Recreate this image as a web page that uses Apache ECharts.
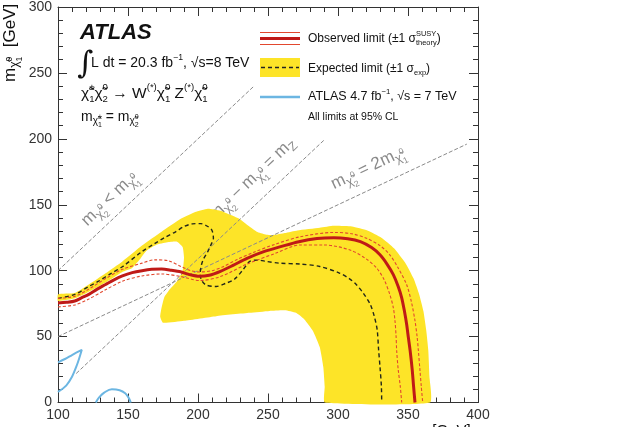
<!DOCTYPE html>
<html>
<head>
<meta charset="utf-8">
<script src="https://cdn.jsdelivr.net/npm/echarts@6/dist/echarts.min.js"></script>
<style>html,body{margin:0;padding:0;background:#fff}#chart{width:642px;height:427px}</style>
</head>
<body>
<div id="chart"></div>
<script>
// Axis ranges and ticks (GeV)
const xRange = [100, 400];
const yRange = [0, 300];
const tickStep = 50;

// Expected limit, +1 sigma edge of the band
const expUp = [[100,82],[112,83],[122,89.5],[134,98],[146,107],[160,119],[174,129.5],[188,139.5],[198,144.5],[207,147],[216,145.5],[224,142],[230,139],[236,134],[242,129.5],[248,127.5],[254,127],[262,128.5],[271,130.5],[287,132.5],[297,134],[310,133.5],[321,130.5],[331,125],[340,117],[348,106],[354,94],[358,82],[361,69.5],[363,55],[364.5,39.5],[365.3,20],[365.7,0]];
// Expected limit, -1 sigma edge of the band
const expDown = [[100,77],[112,79],[122,84],[134,91],[146,99],[153,102],[158,108],[163,115],[170,119.5],[178,121.5],[185,122],[189,118],[190,110],[189,100],[185,92],[180,86],[176,80],[174,72],[173,65],[175,60.5],[190,62],[213,65.5],[237,68],[251,69.5],[262,70],[270,68],[276,63],[282,54.5],[287,42],[289.5,27],[290.5,12],[290.7,0]];
// Expected limit (central)
const expected = [[100,79],[112,82],[122,88],[129,92],[138,98],[146,103],[160,114.5],[169,120.5],[176,125],[184,129.5],[190,133.5],[196,135.5],[202,135.7],[207,133.5],[210,130.5],[211,124.5],[209,119],[207,114.5],[204,109],[202.5,104.5],[201.5,97],[203,92],[206,89],[213,88],[220,90.5],[226,93.5],[232,100.5],[237,107],[243,108],[249,107],[258,105.7],[273,105],[287,103.2],[301,98.2],[308,94],[313,89.5],[318,83],[323,74.5],[326,65],[328,55],[329,40],[330,27],[331,12],[331.2,0]];
// Observed limit (nominal)
const observed = [[100,75.5],[106,76],[112,77],[117,79.5],[122,82],[128,86],[134,89.5],[140,93],[146,96],[153,98.5],[160,100],[167,101],[174,101.2],[181,100.3],[188,99],[194,97],[201,95.7],[208,96.5],[216,99.5],[225,104],[235,109.4],[247,114.5],[259,118.2],[272,122],[285,124.4],[297,125],[307,124.2],[316,122],[324,117.5],[330,112],[335,105],[339.5,97],[343,88],[345.5,79.4],[347.5,69],[349,59.5],[350.3,49],[351.5,39.5],[353,25],[354,12],[355,0]];
// Observed limit, +1 sigma theory
const obsUp = [[100,79],[112,80.5],[122,86],[134,94],[146,101],[160,105.7],[169,108.2],[179,107.5],[188,103],[195,100],[201,99],[210,100],[218,103],[228,108.5],[240,114],[255,120],[273,125.7],[297,129],[310,128],[320.5,124.5],[330,119],[337,112],[343,102],[349,89.5],[352.5,76],[355,62],[356.5,50],[357.4,39.5],[358.5,25],[359.5,12],[360.5,0]];
// Observed limit, -1 sigma theory
const obsDown = [[100,72.5],[112,74],[122,78.5],[134,85.5],[146,92],[160,96],[174,97.5],[188,95.5],[201,92.5],[216,95.5],[235,105],[255,113],[273,119.5],[290,119.5],[308.6,115.7],[320,109],[327.6,102],[333,93],[337,82],[339.5,72],[340.7,62],[341.5,50],[341.9,39.5],[343,25],[344.5,12],[345.5,0]];
// Earlier 7 TeV result (two contour pieces)
const atlas7a = [[100,30.5],[105,33],[110,36],[117,40],[115,33],[113,27],[110,19.5],[106,13],[100,8]];
const atlas7b = [[127,0],[129.5,4],[133,7.5],[138.5,10],[144,9.3],[148,7],[150.5,3.5],[152,0]];
// Kinematic reference lines
const diagEqual = [[100,100],[240,240]];
const diagMZ = [[113,22],[290,199]];
const diagTwice = [[100,50],[392,196]];

const FONT = '"Liberation Sans", Arial, Helvetica, sans-serif';
const YELLOW = '#fde428';
const RED = '#bf1a17';
const THEORY = '#e2482e';
const BLUE = '#6cb6e2';
const GREY = '#8a8a8a';

const mctx = document.createElement('canvas').getContext('2d');
function textWidth(t, size) {
  mctx.font = size + 'px ' + FONT;
  return mctx.measureText(t).width;
}
// Lays out a run of text with super/subscripts; tokens: {t, s: scale, dy: offset in em, k: keep x (stack next)}
function mathText(x, y, tokens, size, color, rot) {
  let cx = 0, pend = 0;
  const children = [];
  tokens.forEach(k => {
    const s = size * (k.s || 1);
    const w = textWidth(k.t, s);
    children.push({
      type: 'text', x: cx, y: (k.dy || 0) * size, silent: true,
      style: { text: k.t, fontSize: s, fontFamily: FONT, fill: color, align: 'left', verticalAlign: 'middle', fontWeight: k.w || 'normal', fontStyle: k.i || 'normal' }
    });
    if (k.k) { pend = w; } else { cx += Math.max(w, pend); pend = 0; }
  });
  return { type: 'group', x: x, y: y, rotation: rot || 0, children: children };
}
const B = t => ({ t: t });
const SUP = t => ({ t: t, s: 0.62, dy: -0.42 });
const SUB = t => ({ t: t, s: 0.62, dy: 0.34 });
// neutralino/chargino symbol written at base level
const chi0 = (sup, sub) => [{ t: 'χ̃' }, { t: sup, s: 0.62, dy: -0.42, k: 1 }, { t: sub, s: 0.62, dy: 0.34 }];
// same symbol used as a subscript of a mass
const chi1 = (sup, sub) => [{ t: 'χ̃', s: 0.72, dy: 0.3 }, { t: sup, s: 0.5, dy: -0.02, k: 1 }, { t: sub, s: 0.5, dy: 0.58 }];

const chart = echarts.init(document.getElementById('chart'), null, { renderer: 'canvas' });

function axisCommon(pos, showLabel) {
  const horiz = pos === 'bottom' || pos === 'top';
  return {
    type: 'value', position: pos, min: horiz ? xRange[0] : yRange[0],
    max: horiz ? xRange[1] : yRange[1], interval: tickStep,
    axisLine: { show: true, onZero: false, lineStyle: { color: '#333', width: 1 } },
    axisTick: { show: true, inside: true, length: 9, lineStyle: { color: '#333', width: 1 } },
    minorTick: { show: true, splitNumber: 5, length: 5, lineStyle: { color: '#333', width: 1 } },
    splitLine: { show: false },
    axisLabel: { show: showLabel, fontSize: 14, color: '#333', fontFamily: FONT, margin: 6, showMinLabel: true, showMaxLabel: true }
  };
}

const lineSeries = (data, style, smooth) => ({
  type: 'line', data: data, showSymbol: false, smooth: smooth, silent: true,
  lineStyle: style, xAxisIndex: 0, yAxisIndex: 0
});

const graphics = [];
// ATLAS header block
graphics.push(mathText(80, 33, [{ t: 'ATLAS', w: 'bold', i: 'italic' }], 22, '#111'));
graphics.push({ type: 'text', x: 77, y: 65, silent: true, style: { text: '∫', fontSize: 31, fontFamily: '"DejaVu Serif", serif', fill: '#111', align: 'left', verticalAlign: 'middle' } });
graphics.push(mathText(91, 63, [B('L dt = 20.3 fb'), SUP('−1'), B(', √s=8 TeV')], 14, '#111'));
graphics.push(mathText(81, 94, [].concat(chi0('±', '1'), chi0('0', '2'), [B(' → W'), SUP('(*)')], chi0('0', '1'), [B(' Z'), SUP('(*)')], chi0('0', '1')), 15.5, '#111'));
graphics.push(mathText(81, 117, [].concat([B('m')], chi1('±', '1'), [B(' = m')], chi1('0', '2')), 14, '#111'));

// reference line labels
graphics.push(mathText(84, 223, [].concat([B('m')], chi1('0', '2'), [B(' < m')], chi1('0', '1')), 17, GREY, 0.76));
graphics.push(mathText(212, 217, [].concat([B('m')], chi1('0', '2'), [B(' − m')], chi1('0', '1'), [B(' = m'), { t: 'Z', s: 0.72, dy: 0.3 }]), 17, GREY, 0.76));
graphics.push(mathText(332, 185, [].concat([B('m')], chi1('0', '2'), [B(' = 2m')], chi1('0', '1')), 17, GREY, 0.445));

// axis titles
graphics.push(mathText(390, 431, [].concat([B('m')], chi1('±', '1'), [{ t: ', ', s: 0.72, dy: 0.3 }], chi1('0', '2'), [B(' [GeV]')]), 15, '#111'));
graphics.push(mathText(10, 82, [].concat([B('m')], chi1('0', '1'), [B('  [GeV]')]), 17, '#111', Math.PI / 2));

// legend
graphics.push({ type: 'line', silent: true, shape: { x1: 260, y1: 32.5, x2: 300, y2: 32.5 }, style: { stroke: THEORY, lineWidth: 1 } });
graphics.push({ type: 'line', silent: true, shape: { x1: 260, y1: 44.5, x2: 300, y2: 44.5 }, style: { stroke: THEORY, lineWidth: 1 } });
graphics.push({ type: 'line', silent: true, shape: { x1: 260, y1: 38.5, x2: 300, y2: 38.5 }, style: { stroke: RED, lineWidth: 3 } });
graphics.push(mathText(308, 39, [B('Observed limit (±1 σ'), { t: 'SUSY', s: 0.62, dy: -0.42, k: 1 }, { t: 'theory', s: 0.62, dy: 0.36 }, B(')')], 12, '#111'));
graphics.push({ type: 'rect', silent: true, shape: { x: 260, y: 58, width: 40, height: 19 }, style: { fill: YELLOW } });
graphics.push({ type: 'line', silent: true, shape: { x1: 261, y1: 67.5, x2: 299, y2: 67.5 }, style: { stroke: '#222', lineWidth: 1.3, lineDash: [4, 3] } });
graphics.push(mathText(308, 69, [B('Expected limit (±1 σ'), SUB('exp'), B(')')], 12, '#111'));
graphics.push({ type: 'line', silent: true, shape: { x1: 260, y1: 97, x2: 300, y2: 97 }, style: { stroke: BLUE, lineWidth: 2.5 } });
graphics.push(mathText(308, 97, [B('ATLAS 4.7 fb'), SUP('−1'), B(', √s = 7 TeV')], 12.5, '#111'));
graphics.push(mathText(308, 117, [B('All limits at 95% CL')], 10.5, '#111'));

const option = {
  animation: false,
  backgroundColor: '#fff',
  grid: { left: 58, right: 164, top: 3, bottom: 24.5, containLabel: false },
  xAxis: [axisCommon('bottom', true), axisCommon('top', false)],
  yAxis: [axisCommon('left', true), axisCommon('right', false)],
  series: [
    {
      type: 'custom', silent: true, xAxisIndex: 0, yAxisIndex: 0, data: [[xRange[0], yRange[0]]],
      renderItem: function (params, api) {
        const ring = expUp.concat(expDown.slice().reverse());
        return { type: 'polygon', shape: { points: ring.map(p => api.coord(p)), smooth: 0.15 }, style: { fill: YELLOW } };
      }
    },
    lineSeries(diagEqual, { color: GREY, width: 1, type: [4, 2] }, false),
    lineSeries(diagMZ, { color: GREY, width: 1, type: [4, 2] }, false),
    lineSeries(diagTwice, { color: GREY, width: 1, type: [4, 2] }, false),
    lineSeries(expected, { color: '#22261a', width: 1.4, type: [4, 3] }, 0.3),
    lineSeries(obsUp, { color: THEORY, width: 1.1, type: [3, 2] }, 0.3),
    lineSeries(obsDown, { color: THEORY, width: 1.1, type: [3, 2] }, 0.3),
    lineSeries(observed, { color: RED, width: 3 }, 0.3),
    lineSeries(atlas7a, { color: BLUE, width: 2 }, 0.3),
    lineSeries(atlas7b, { color: BLUE, width: 2 }, 0.4)
  ],
  graphic: { elements: graphics }
};
chart.setOption(option);
</script>
</body>
</html>
